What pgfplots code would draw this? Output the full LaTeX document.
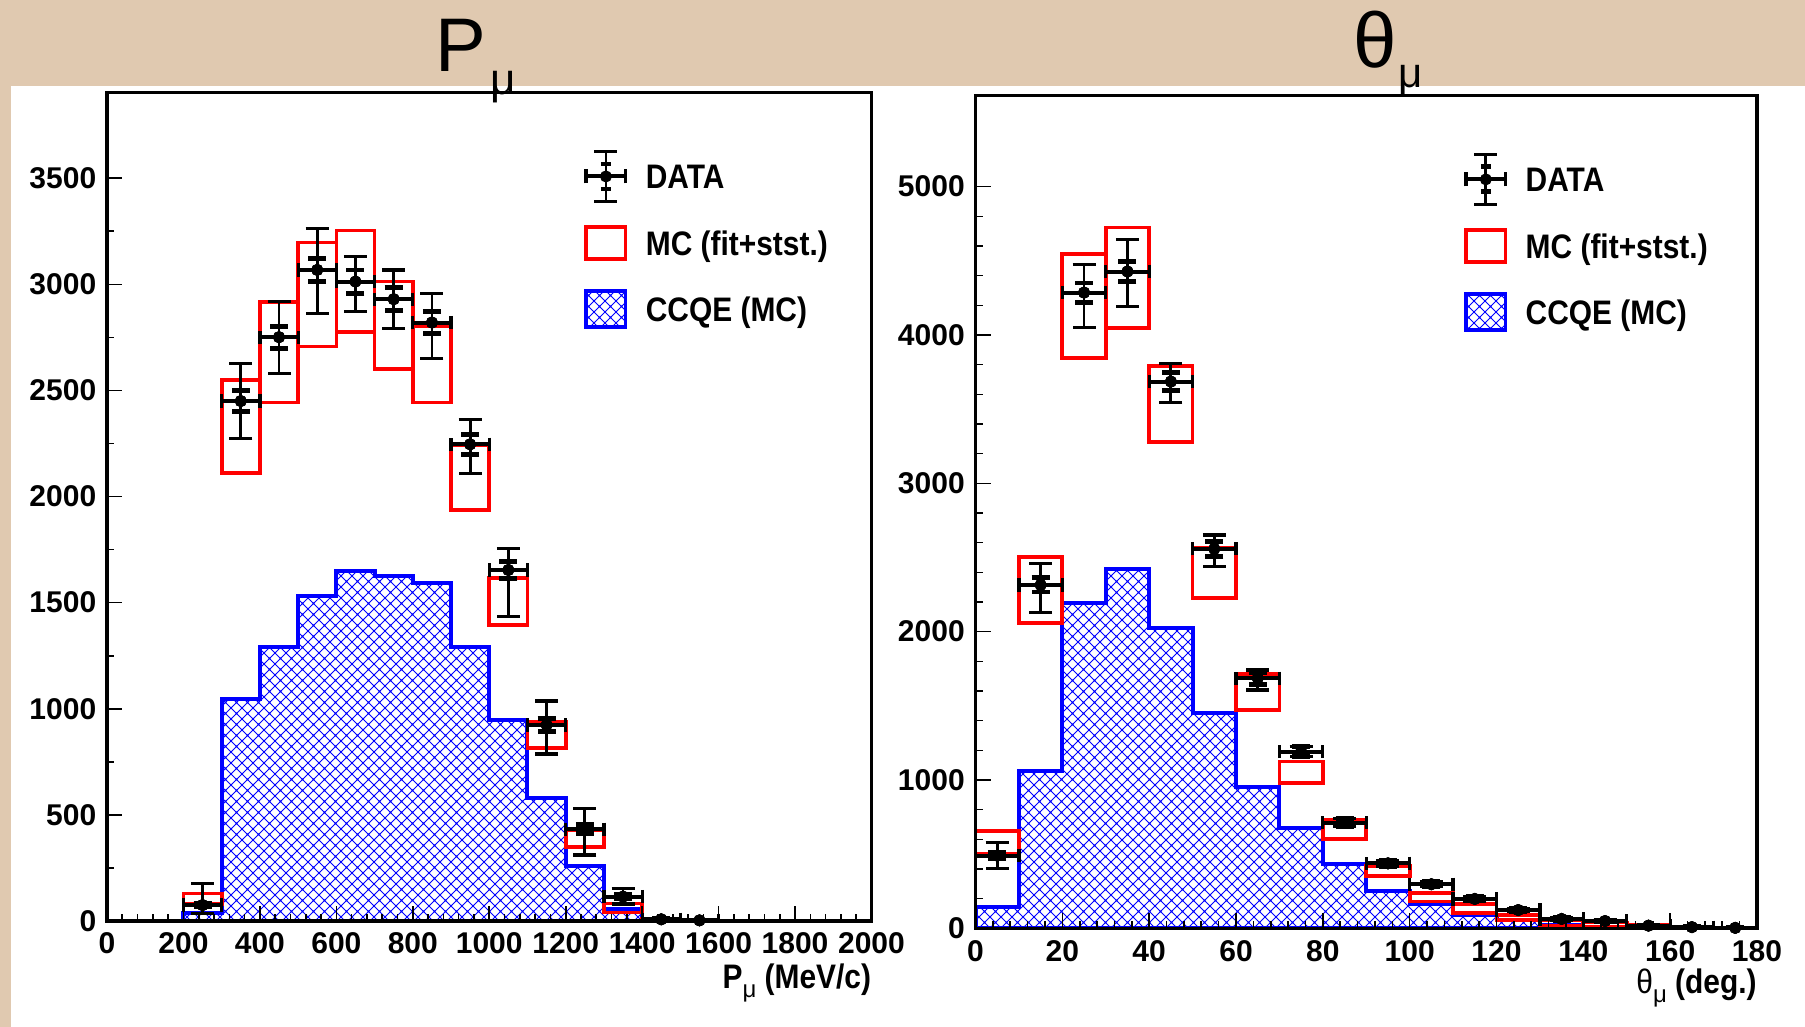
\documentclass[border=0pt]{standalone}
\usepackage{fontspec}
\setmainfont{Liberation Sans}
\newfontfamily\condfont{Liberation Sans}[FakeStretch=0.88]
\usepackage{pgfplots}
\pgfplotsset{compat=1.18}
\usepackage{pgfplotstable}
\usetikzlibrary{patterns}

\definecolor{parchment}{RGB}{224,201,176}
\definecolor{rootblue}{RGB}{0,0,255}
\definecolor{rootred}{RGB}{255,0,0}

% diagonal cross-hatch (ROOT style) for the CCQE histograms
\pgfdeclarepatternformonly{diamondhatch}{\pgfqpoint{-0.6pt}{-0.6pt}}{\pgfqpoint{6.1pt}{6.1pt}}{\pgfqpoint{5.5pt}{5.5pt}}{%
  \pgfsetlinewidth{0.5pt}%
  \pgfpathmoveto{\pgfqpoint{0pt}{0pt}}\pgfpathlineto{\pgfqpoint{5.5pt}{5.5pt}}%
  \pgfpathmoveto{\pgfqpoint{0pt}{5.5pt}}\pgfpathlineto{\pgfqpoint{5.5pt}{0pt}}%
  \pgfusepath{stroke}%
  \pgfpathcircle{\pgfqpoint{2.75pt}{2.75pt}}{0.5pt}%
  \pgfpathcircle{\pgfqpoint{0pt}{0pt}}{0.5pt}%
  \pgfpathcircle{\pgfqpoint{5.5pt}{0pt}}{0.5pt}%
  \pgfpathcircle{\pgfqpoint{0pt}{5.5pt}}{0.5pt}%
  \pgfpathcircle{\pgfqpoint{5.5pt}{5.5pt}}{0.5pt}%
  \pgfusepath{fill}%
}

% ---------------- P_mu ----------------
\pgfplotstableread{
x y
0 0
100 0
200 39
300 1046
400 1290
500 1533
600 1649
700 1626
800 1591
900 1290
1000 947
1100 578
1200 261
1300 55
1400 0
2000 0
}\pmuccqe

\pgfplotstableread{
x y ep em st ex
250 75 100 40 9 50
350 2450 178 175 49 50
450 2751 167 170 52 50
550 3068 196 204 55 50
650 3013 118 141 55 50
750 2930 138 137 54 50
850 2820 135 168 53 50
950 2246 118 136 47 50
1050 1654 102 220 41 50
1150 924 113 137 30 50
1250 432 97 121 21 50
1350 115 37 35 11 50
1450 8 5 5 3 50
1550 3 3 3 2 50
}\pmudata

% ---------------- theta_mu ----------------
\pgfplotstableread{
x y
0 141
10 1062
20 2191
30 2420
40 2025
50 1452
60 955
70 678
80 431
90 254
100 162
110 92
120 58
130 25
140 12
150 5
160 2
170 0
180 0
}\thccqe

\pgfplotstableread{
x y ep em st ex
5 490 87 85 22 5
15 2315 146 187 48 5
25 4286 187 236 65 5
35 4428 218 236 67 5
45 3686 124 139 61 5
55 2558 94 120 51 5
65 1686 55 80 41 5
75 1191 35 35 35 5
85 712 27 27 27 5
95 438 21 21 21 5
105 297 17 17 17 5
115 198 14 14 14 5
125 123 11 11 11 5
135 63 8 8 8 5
145 49 7 7 7 5
155 18 4 4 4 5
165 8 3 3 3 5
175 3 2 2 2 5
}\thdata

\pgfplotsset{
  rootaxis/.style={
    scale only axis,
    axis on top,
    clip=true,
    axis line style={line width=1.75pt},
    tick pos=left,
    tick align=inside,
    major tick length=7.5pt,
    minor tick length=3.5pt,
    tick style={black, line width=0.8pt},
    tick label style={font=\bfseries\fontsize{15}{18}\selectfont},
    xticklabel style={inner sep=0pt, yshift=-5.8pt},
    yticklabel style={inner sep=0pt, xshift=-5.2pt},
    /pgf/number format/assume math mode=true,
    /pgf/number format/set thousands separator={},
    scaled ticks=false,
    legend cell align=left,
    legend style={draw=none, fill=none, inner sep=0pt, outer sep=0pt,
      font=\condfont\bfseries\fontsize{17}{20}\selectfont,
      row sep=7pt, column sep=9pt,
      nodes={inner sep=0pt, text height=12.2pt, text depth=0pt}},
  },
  ccqe/.style={const plot, draw=rootblue, line width=2pt, line join=miter,
    pattern=diamondhatch, pattern color=rootblue, forget plot},
  mcbox/.style={draw=rootred, line width=1.85pt, line join=miter, line cap=rect,
    unbounded coords=jump, forget plot},
  totbar/.style={black, only marks, mark=*, mark size=2.8pt, forget plot,
    error bars/.cd, y dir=both, y explicit,
    error bar style={black, line width=1.4pt},
    error mark options={rotate=90, black, line width=1.6pt, mark size=5.75pt}},
  statbar/.style={black, only marks, mark=*, mark size=2.8pt, forget plot,
    error bars/.cd, y dir=both, y explicit,
    error bar style={black, line width=1.4pt},
    error mark options={rotate=90, black, line width=2.4pt, mark size=4.5pt}},
  binbar/.style={black, only marks, mark=*, mark size=2.8pt, forget plot,
    error bars/.cd, x dir=both, x explicit,
    error bar style={black, line width=2pt},
    error mark options={rotate=90, black, line width=1.6pt, mark size=3.3pt}},
  dataleg/.style={legend image code/.code={
    \path[draw=none, fill=none] (0pt,-13pt) rectangle (21.5pt,13pt);
    \draw[black, line width=1.4pt] (10.75pt,-12.5pt) -- (10.75pt,12.5pt);
    \draw[black, line width=1.6pt] (5pt,12.5pt) -- (16.5pt,12.5pt) (5pt,-12.5pt) -- (16.5pt,-12.5pt);
    \draw[black, line width=2.4pt] (8.25pt,6.25pt) -- (13.25pt,6.25pt) (8.25pt,-6.25pt) -- (13.25pt,-6.25pt);
    \draw[black, line width=2pt] (0.8pt,0pt) -- (20.7pt,0pt);
    \draw[black, line width=1.6pt] (0.8pt,-3.5pt) -- (0.8pt,3.5pt) (20.7pt,-3.5pt) -- (20.7pt,3.5pt);
    \fill[black] (10.75pt,0pt) circle (2.8pt);}},
  mcleg/.style={legend image code/.code={
    \path[draw=none, fill=none] (0pt,-13pt) rectangle (21.5pt,13pt);
    \draw[rootred, line width=1.85pt] (0.9pt,-8.1pt) rectangle (20.6pt,8.1pt);}},
  ccqeleg/.style={legend image code/.code={
    \path[draw=none, fill=none] (0pt,-13pt) rectangle (21.5pt,13pt);
    \draw[rootblue, line width=1.6pt, pattern=diamondhatch, pattern color=rootblue]
      (0.8pt,-9pt) rectangle (20.7pt,9pt);}},
}

\begin{document}
\begin{tikzpicture}
\path[use as bounding box] (0pt,0pt) rectangle (902.5pt,-513.5pt);
\fill[parchment] (0pt,0pt) rectangle (902.5pt,-513.5pt);
\fill[white] (5.5pt,-43pt) rectangle (902.5pt,-513.5pt);

% ---------- muon momentum ----------
\begin{axis}[rootaxis,
  at={(53.5pt,-460.5pt)}, anchor=south west,
  width=382.25pt, height=414.15pt,
  xmin=0, xmax=2000, ymin=0, ymax=3903,
  xtick={0,200,...,2000}, ytick={0,500,...,3500},
  minor x tick num=4, minor y tick num=1,
  xlabel={\condfont\bfseries\fontsize{17}{20}\selectfont P\raisebox{-4.5pt}{\normalfont\fontsize{12}{12}\selectfont μ} (MeV/c)},
  xlabel style={at={(rel axis cs:1,0)}, anchor=base east, inner sep=0pt, yshift=-33.5pt},
  legend style={at={(rel axis cs:0.624,0.931)}, anchor=north west},
]
\addplot[ccqe] table {\pmuccqe} \closedcycle;
\addplot[mcbox] coordinates {
 (200,80) (300,80) (300,130) (200,130) (200,80) (nan,nan)
 (300,2110) (400,2110) (400,2550) (300,2550) (300,2110) (nan,nan)
 (400,2443) (500,2443) (500,2918) (400,2918) (400,2443) (nan,nan)
 (500,2707) (600,2707) (600,3197) (500,3197) (500,2707) (nan,nan)
 (600,2777) (700,2777) (700,3253) (600,3253) (600,2777) (nan,nan)
 (700,2600) (800,2600) (800,3013) (700,3013) (700,2600) (nan,nan)
 (800,2443) (900,2443) (900,2801) (800,2801) (800,2443) (nan,nan)
 (900,1937) (1000,1937) (1000,2240) (900,2240) (900,1937) (nan,nan)
 (1000,1395) (1100,1395) (1100,1615) (1000,1615) (1000,1395) (nan,nan)
 (1100,814) (1200,814) (1200,939) (1100,939) (1100,814) (nan,nan)
 (1200,350) (1300,350) (1300,429) (1200,429) (1200,350) (nan,nan)
 (1300,40) (1400,40) (1400,83) (1300,83) (1300,40) (nan,nan)
 (1400,2) (1500,2) (1500,12) (1400,12) (1400,2)
};
\addplot[totbar] table[x=x, y=y, y error plus=ep, y error minus=em] {\pmudata};
\addplot[statbar] table[x=x, y=y, y error=st] {\pmudata};
\addplot[binbar] table[x=x, y=y, x error=ex] {\pmudata};
\addlegendimage{dataleg}\addlegendentry{DATA}
\addlegendimage{mcleg}\addlegendentry{MC (fit+stst.)}
\addlegendimage{ccqeleg}\addlegendentry{CCQE (MC)}
\end{axis}

% ---------- muon angle ----------
\begin{axis}[rootaxis,
  at={(487.75pt,-464.15pt)}, anchor=south west,
  width=390.75pt, height=416.5pt,
  xmin=0, xmax=180, ymin=0, ymax=5616,
  xtick={0,20,...,180}, ytick={0,1000,...,5000},
  minor x tick num=4, minor y tick num=4,
  xlabel={\condfont\bfseries\fontsize{17}{20}\selectfont \textmd{θ}\raisebox{-4.5pt}{\normalfont\fontsize{12}{12}\selectfont μ} (deg.)},
  xlabel style={at={(rel axis cs:1,0)}, anchor=base east, inner sep=0pt, yshift=-32.4pt},
  legend style={at={(rel axis cs:0.625,0.931)}, anchor=north west},
]
\addplot[ccqe] table {\thccqe} \closedcycle;
\addplot[mcbox] coordinates {
 (0,500) (10,500) (10,658) (0,658) (0,500) (nan,nan)
 (10,2057) (20,2057) (20,2504) (10,2504) (10,2057) (nan,nan)
 (20,3845) (30,3845) (30,4548) (20,4548) (20,3845) (nan,nan)
 (30,4046) (40,4046) (40,4724) (30,4724) (30,4046) (nan,nan)
 (40,3277) (50,3277) (50,3792) (40,3792) (40,3277) (nan,nan)
 (50,2229) (60,2229) (60,2562) (50,2562) (50,2229) (nan,nan)
 (60,1472) (70,1472) (70,1715) (60,1715) (60,1472) (nan,nan)
 (70,978) (80,978) (80,1124) (70,1124) (70,978) (nan,nan)
 (80,600) (90,600) (90,730) (80,730) (80,600) (nan,nan)
 (90,353) (100,353) (100,420) (90,420) (90,353) (nan,nan)
 (100,180) (110,180) (110,236) (100,236) (100,180) (nan,nan)
 (110,101) (120,101) (120,164) (110,164) (110,101) (nan,nan)
 (120,56) (130,56) (130,90) (120,90) (120,56) (nan,nan)
 (130,15) (140,15) (140,56) (130,56) (130,15) (nan,nan)
 (140,11) (150,11) (150,39) (140,39) (140,11) (nan,nan)
 (150,5) (160,5) (160,20) (150,20) (150,5)
};
\addplot[totbar] table[x=x, y=y, y error plus=ep, y error minus=em] {\thdata};
\addplot[statbar] table[x=x, y=y, y error=st] {\thdata};
\addplot[binbar] table[x=x, y=y, x error=ex] {\thdata};
\addlegendimage{dataleg}\addlegendentry{DATA}
\addlegendimage{mcleg}\addlegendentry{MC (fit+stst.)}
\addlegendimage{ccqeleg}\addlegendentry{CCQE (MC)}
\end{axis}

% panel titles
\node[anchor=base west, inner sep=0pt, font=\fontsize{38}{40}\selectfont] at (217.5pt,-36pt) {P};
\node[anchor=base west, inner sep=0pt, font=\fontsize{22}{22}\selectfont] at (245pt,-47.5pt) {μ};
\node[anchor=base west, inner sep=0pt, font=\fontsize{39}{42}\selectfont] at (676.5pt,-34pt) {θ};
\node[anchor=base west, inner sep=0pt, font=\fontsize{21}{21}\selectfont] at (699pt,-44pt) {μ};
\end{tikzpicture}
\end{document}
